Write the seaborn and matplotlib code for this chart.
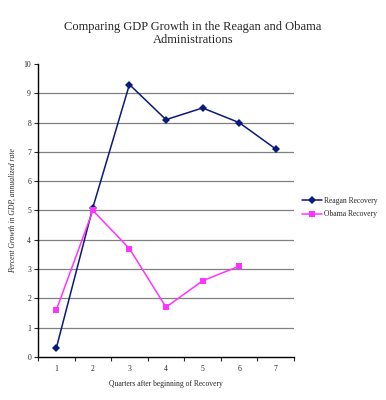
import numpy as np
import pandas as pd
import seaborn as sns
import matplotlib.pyplot as plt
from matplotlib.ticker import FixedLocator, NullFormatter

quarters_reagan = [1, 2, 3, 4, 5, 6, 7]
reagan = [0.3, 5.1, 9.3, 8.1, 8.5, 8.0, 7.1]
quarters_obama = [1, 2, 3, 4, 5, 6]
obama = [1.6, 5.0, 3.7, 1.7, 2.6, 3.1]
series_names = ["Reagan Recovery", "Obama Recovery"]

df = pd.concat([
    pd.DataFrame({"quarter": quarters_reagan, "growth": reagan, "series": series_names[0]}),
    pd.DataFrame({"quarter": quarters_obama, "growth": obama, "series": series_names[1]}),
])

sns.set_style("white")
plt.rcParams['font.family'] = ['Liberation Serif', 'DejaVu Serif']

fig = plt.figure(figsize=(3.86, 4.0), dpi=100)
ax = fig.add_axes([38 / 386, 1 - 357 / 400, (294 - 38) / 386, (357 - 64) / 400])

# gridlines
for v in range(1, 10):
    ax.axhline(v, color="#808080", lw=0.9, zorder=0)

sns.lineplot(data=df, x="quarter", y="growth", hue="series", style="series",
             palette={series_names[0]: "#0a1a7a", series_names[1]: "#ff33ff"},
             markers={series_names[0]: "D", series_names[1]: "s"},
             dashes=False, markersize=4.5, linewidth=1.1, markeredgewidth=0,
             ax=ax, legend=True)

ax.set_xlim(0.5, 7.5)
ax.set_ylim(0, 10)
ax.set_yticks(range(0, 11))
ax.tick_params(axis="y", labelsize=5.5, length=3, width=0.8, direction="out", left=True, pad=2)
ax.xaxis.set_major_locator(FixedLocator(np.arange(0.5, 8.0, 1.0)))
ax.xaxis.set_major_formatter(NullFormatter())
ax.xaxis.set_minor_locator(FixedLocator(range(1, 8)))
ax.set_xticklabels([str(i) for i in range(1, 8)], minor=True)
ax.tick_params(axis="x", which="major", length=3, width=0.8, direction="out", bottom=True)
ax.tick_params(axis="x", which="minor", length=0, labelsize=5.5, pad=6)

for s in ["top", "right"]:
    ax.spines[s].set_visible(False)
ax.spines["left"].set_color("black")
ax.spines["bottom"].set_color("black")
ax.spines["left"].set_linewidth(1.0)
ax.spines["bottom"].set_linewidth(1.0)

ax.set_xlabel("Quarters after beginning of Recovery", fontsize=5.5, labelpad=5)
ax.set_ylabel("Percent Growth in GDP, annualized rate", fontsize=5.5, style="italic", labelpad=5)

leg = ax.legend(loc="center left", bbox_to_anchor=(1.005, 0.51), frameon=False,
                fontsize=5.5, handlelength=2.6, handletextpad=0.2, labelspacing=0.75)

fig.text(0.5, 0.917, "Comparing GDP Growth in the Reagan and Obama\nAdministrations",
         ha="center", va="center", fontsize=9, linespacing=1.15)

fig.savefig("out.png", dpi=100)
